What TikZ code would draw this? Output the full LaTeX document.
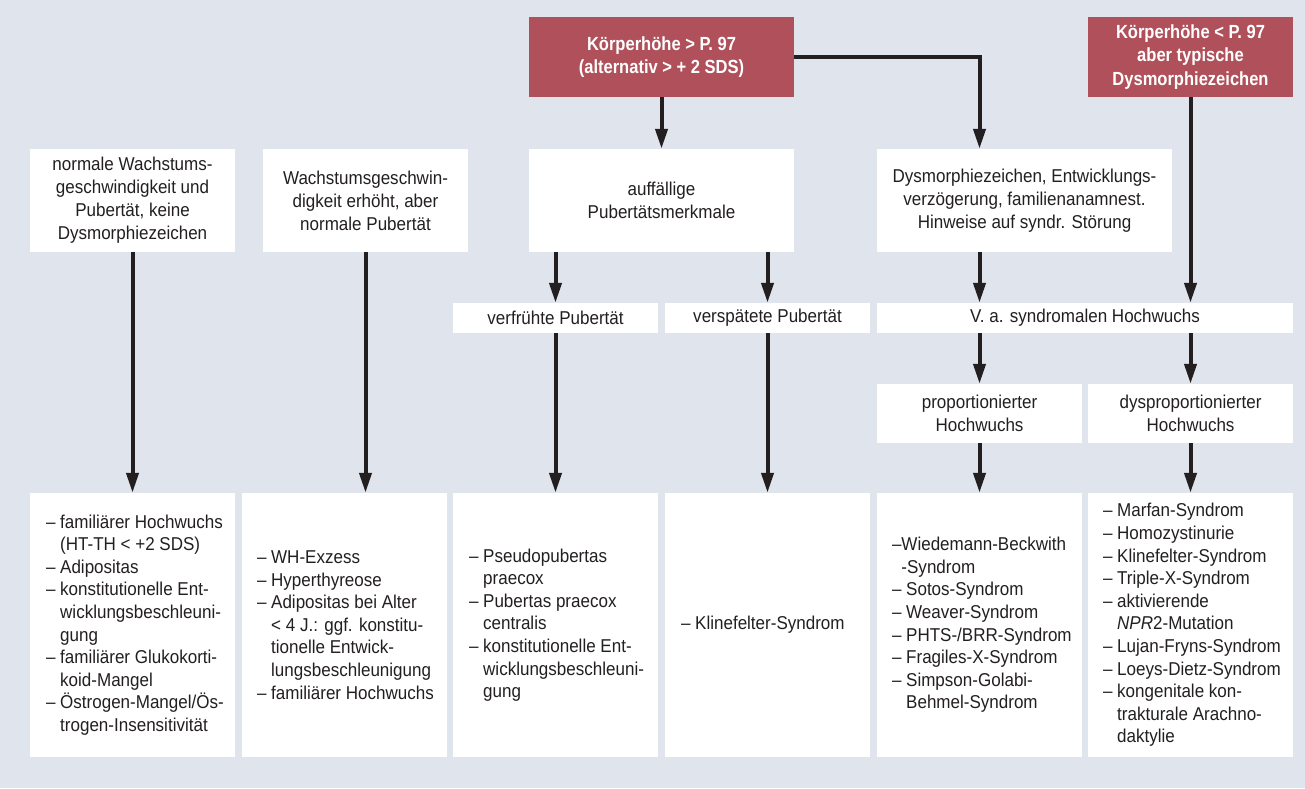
\documentclass[tikz,border=0pt]{standalone}
\usepackage{fontspec}
\setmainfont[FakeStretch=0.915]{Liberation Sans}
\newfontfamily\redfont[FakeStretch=0.87]{Liberation Sans}
\usetikzlibrary{arrows.meta}
\definecolor{bg}{RGB}{224,228,237}
\definecolor{redbox}{RGB}{176,80,90}
\definecolor{ink}{RGB}{35,31,32}
\begin{document}
\begin{tikzpicture}[x=1pt,y=-1pt,
  box/.style={fill=white, inner sep=0pt, align=center, text=ink, font=\fontsize{18.6}{23}\selectfont},
  redn/.style={fill=redbox, inner sep=0pt, align=center, text=white, font=\redfont\bfseries\fontsize{19}{23.5}\selectfont},
  listtext/.style={anchor=west, inner sep=0pt, align=left, text=ink, font=\fontsize{18.6}{22.6}\selectfont},
  arr/.style={draw=ink, line width=4pt, -{Triangle[length=20pt,width=12pt]}},
  conn/.style={draw=ink, line width=4pt, line join=miter}
]
\fill[bg] (0,0) rectangle (1305,788);
\useasboundingbox (0,0) rectangle (1305,788);

% red boxes
\node[redn, minimum width=265pt, minimum height=80pt] (r1) at (661.5,57)
  {Körperhöhe > P. 97\\(alternativ > + 2 SDS)};
\node[redn, minimum width=205pt, minimum height=80pt] (r2) at (1190.5,57)
  {Körperhöhe < P. 97\\aber typische\\Dysmorphiezeichen};

% second row
\node[box, minimum width=205pt, minimum height=103pt] (A) at (132.5,200.5)
  {normale Wachstums-\\geschwindigkeit und\\Pubertät, keine\\Dysmorphiezeichen};
\node[box, minimum width=205pt, minimum height=103pt] (B) at (365.5,200.5)
  {Wachstumsgeschwin-\\digkeit erhöht, aber\\normale Pubertät};
\node[box, minimum width=265pt, minimum height=103pt] (C) at (661.5,200.5)
  {auffällige\\Pubertätsmerkmale};
\node[box, minimum width=295pt, minimum height=103pt] (D) at (1024.5,200.5)
  {Dysmorphiezeichen, Entwicklungs-\\verzögerung, familienanamnest.\\Hinweise auf syndr. Störung};

% third row
\node[box, minimum width=205pt, minimum height=30pt] (vf) at (555.5,318) {verfrühte Pubertät};
\node[box, minimum width=205pt, minimum height=30pt] (vs) at (767.5,318) {verspätete Pubertät};
\node[box, minimum width=416pt, minimum height=30pt] (va) at (1085,318) {V. a. syndromalen Hochwuchs};

% fourth row
\node[box, minimum width=205pt, minimum height=59pt] (pr) at (979.5,413.5) {proportionierter\\Hochwuchs};
\node[box, minimum width=205pt, minimum height=59pt] (dy) at (1190.5,413.5) {dysproportionierter\\Hochwuchs};

% bottom row boxes
\foreach \n/\x in {b1/132.5, b2/344.5, b3/555.5, b4/767.5, b5/979.5, b6/1190.5}
  \node[box, minimum width=205pt, minimum height=264pt] (\n) at (\x,625) {};

\node[listtext] (t1) at ([xshift=16pt]b1.west) {%
– familiärer Hochwuchs\\\phantom{– }(HT-TH < +2 SDS)\\– Adipositas\\– konstitutionelle Ent-\\\phantom{– }wicklungsbeschleuni-\\\phantom{– }gung\\– familiärer Glukokorti-\\\phantom{– }koid-Mangel\\– Östrogen-Mangel/Ös-\\\phantom{– }trogen-Insensitivität};
\node[listtext] (t2) at ([xshift=15pt]b2.west) {%
– WH-Exzess\\– Hyperthyreose\\– Adipositas bei Alter\\\phantom{– }< 4 J.: ggf. konstitu-\\\phantom{– }tionelle Entwick-\\\phantom{– }lungsbeschleunigung\\– familiärer Hochwuchs};
\node[listtext] (t3) at ([xshift=16pt]b3.west) {%
– Pseudopubertas\\\phantom{– }praecox\\– Pubertas praecox\\\phantom{– }centralis\\– konstitutionelle Ent-\\\phantom{– }wicklungsbeschleuni-\\\phantom{– }gung};
\node[listtext] (t4) at ([xshift=16pt]b4.west) {– Klinefelter-Syndrom};
\node[listtext] (t5) at ([xshift=15pt]b5.west) {%
–Wiedemann-Beckwith\\\phantom{–}-Syndrom\\– Sotos-Syndrom\\– Weaver-Syndrom\\– PHTS-/BRR-Syndrom\\– Fragiles-X-Syndrom\\– Simpson-Golabi-\\\phantom{– }Behmel-Syndrom};
\node[listtext] (t6) at ([xshift=15pt]b6.west) {%
– Marfan-Syndrom\\– Homozystinurie\\– Klinefelter-Syndrom\\– Triple-X-Syndrom\\– aktivierende\\\phantom{– }\textit{NPR}2-Mutation\\– Lujan-Fryns-Syndrom\\– Loeys-Dietz-Syndrom\\– kongenitale kon-\\\phantom{– }trakturale Arachno-\\\phantom{– }daktylie};

% connectors
\coordinate (k) at (979.5,57);
\draw[arr] (r1.south) -- (C.north);
\draw[arr, line join=miter] (r1.east) -- (k) -- (k |- D.north);
\draw[arr] (r2.south) -- (r2.south |- va.north);
\draw[arr] (A.south) -- (b1.north);
\draw[arr] (B.south) -- (B.south |- b2.north);
\draw[arr] (C.south -| vf.north) -- (vf.north);
\draw[arr] (C.south -| vs.north) -- (vs.north);
\draw[arr] (vf.south) -- (b3.north);
\draw[arr] (vs.south) -- (b4.north);
\draw[arr] (D.south -| pr.north) -- (va.north -| pr.north);
\draw[arr] (va.south -| pr.north) -- (pr.north);
\draw[arr] (va.south -| dy.north) -- (dy.north);
\draw[arr] (pr.south) -- (b5.north);
\draw[arr] (dy.south) -- (b6.north);
\end{tikzpicture}
\end{document}
